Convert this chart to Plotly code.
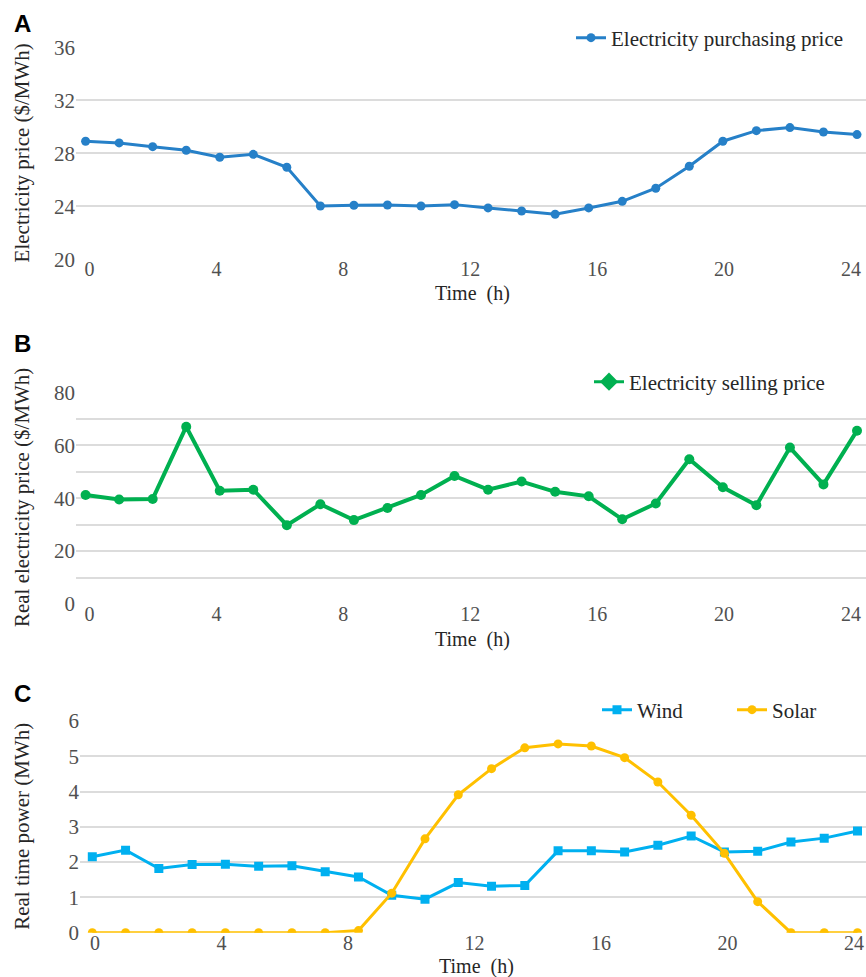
import plotly.graph_objects as go

# ---------------- data ----------------
hours = list(range(24))  # 24 hourly periods
x_tick_labels = [0, 4, 8, 12, 16, 20, 24]

purchase_price = [28.92, 28.79, 28.51, 28.24, 27.71, 27.93, 26.95, 24.03, 24.08, 24.10,
                  24.03, 24.13, 23.88, 23.65, 23.40, 23.88, 24.38, 25.37, 27.03, 28.92,
                  29.72, 29.95, 29.62, 29.42]
selling_price = [41.2, 39.5, 39.7, 67.0, 42.8, 43.2, 29.8, 37.7, 31.7, 36.3,
                 41.2, 48.4, 43.2, 46.3, 42.4, 40.7, 32.0, 38.0, 54.7, 44.1,
                 37.3, 59.1, 45.2, 65.5]
wind_power = [2.15, 2.34, 1.82, 1.93, 1.94, 1.88, 1.90, 1.73, 1.58, 1.06,
              0.95, 1.42, 1.32, 1.34, 2.32, 2.32, 2.29, 2.48, 2.74, 2.29,
              2.31, 2.57, 2.68, 2.88]
solar_power = [0, 0, 0, 0, 0, 0, 0, 0, 0.06, 1.12,
               2.66, 3.91, 4.65, 5.24, 5.35, 5.29, 4.96, 4.27, 3.33, 2.25,
               0.88, 0, 0, 0]

y_ticks_a = [20, 24, 28, 32, 36]
y_ticks_b = [0, 20, 40, 60, 80]
y_ticks_c = [0, 1, 2, 3, 4, 5, 6]

# ---------------- style ----------------
W, H = 866, 977
SERIF = "Liberation Serif, Times New Roman, serif"
SANS = "Liberation Sans, Arial, sans-serif"
TICK_COLOR = "#505050"
TEXT_COLOR = "#262626"
GRID = "#DCDCDC"
FS = 21
FSX = 20

BLUE = "#2680C8"
GREEN = "#00B050"
CYAN = "#00B0F0"
GOLD = "#FFC000"


def fy(px):
    return 1 - px / H


def fx(px):
    return px / W


fig = go.Figure()

fig.add_trace(go.Scatter(
    x=hours, y=purchase_price, mode="lines+markers",
    name="Electricity purchasing price",
    line=dict(color=BLUE, width=3), marker=dict(size=9, color=BLUE),
    xaxis="x", yaxis="y", legend="legend"))

fig.add_trace(go.Scatter(
    x=hours, y=selling_price, mode="lines+markers",
    name="Electricity selling price", showlegend=False,
    line=dict(color=GREEN, width=4), marker=dict(size=10, color=GREEN),
    xaxis="x2", yaxis="y2"))
# legend entry with diamond symbol as in the reference
fig.add_trace(go.Scatter(
    x=[None], y=[None], mode="lines+markers",
    name="Electricity selling price",
    line=dict(color=GREEN, width=3), marker=dict(size=14, color=GREEN, symbol="diamond"),
    xaxis="x2", yaxis="y2", legend="legend2"))

fig.add_trace(go.Scatter(
    x=hours, y=wind_power, mode="lines+markers", name="Wind",
    line=dict(color=CYAN, width=3), marker=dict(size=9, color=CYAN, symbol="square"),
    xaxis="x3", yaxis="y3", legend="legend3"))
fig.add_trace(go.Scatter(
    x=hours, y=solar_power, mode="lines+markers", name="Solar",
    line=dict(color=GOLD, width=3), marker=dict(size=9, color=GOLD),
    xaxis="x3", yaxis="y3", legend="legend3"))

tick_font = dict(family=SERIF, size=FS, color=TICK_COLOR)
xtick_font = dict(family=SERIF, size=FSX, color=TICK_COLOR)
title_font = dict(family=SERIF, size=FS, color=TEXT_COLOR)
xtitle_font = dict(family=SERIF, size=FSX, color=TEXT_COLOR)


def xaxis_cfg(anchor, left_px, x0_px, x23_px, lab0_px, lab24_px):
    per = (x23_px - x0_px) / 23.0
    rng = [(left_px - x0_px) / per, (W - x0_px) / per]
    a = (lab0_px - x0_px) / per
    b = (lab24_px - x0_px) / per
    tickvals = [a + (b - a) * v / 24.0 for v in x_tick_labels]
    return dict(
        domain=[fx(left_px), 1.0], range=rng, anchor=anchor,
        tickmode="array", tickvals=tickvals, ticktext=[str(v) for v in x_tick_labels],
        showgrid=False, zeroline=False, showline=False, ticks="",
        tickfont=xtick_font, ticklabeloverflow="allow", ticklabelstandoff=-4,
        fixedrange=True,
    )


def yaxis_cfg(anchor, top_px, bot_px, rng, ticks, minor=None):
    cfg = dict(
        domain=[fy(bot_px), fy(top_px)], range=rng, anchor=anchor,
        tickmode="array", tickvals=ticks, ticktext=[str(v) for v in ticks],
        showgrid=True, gridcolor=GRID, gridwidth=1.5, zeroline=False,
        showline=False, ticks="", tickfont=tick_font,
        fixedrange=True,
    )
    if minor is not None:
        cfg["minor"] = dict(dtick=minor, showgrid=True, gridcolor=GRID, gridwidth=1.5,
                            tick0=0)
    return cfg


layout = dict(
    width=W, height=H,
    margin=dict(l=0, r=0, t=0, b=0, autoexpand=False),
    paper_bgcolor="white", plot_bgcolor="white",
    font=dict(family=SERIF, color=TEXT_COLOR),
    xaxis=xaxis_cfg("y", 76, 85.6, 857.0, 89.5, 851.0),
    yaxis=yaxis_cfg("x", 47.5, 259.3, [20, 36], y_ticks_a),
    xaxis2=xaxis_cfg("y2", 76, 85.6, 857.0, 89.5, 851.0),
    yaxis2=yaxis_cfg("x2", 392.3, 604.0, [0, 80], y_ticks_b, minor=10),
    xaxis3=xaxis_cfg("y3", 80, 92.3, 857.5, 95.0, 854.0),
    yaxis3=yaxis_cfg("x3", 721.0, 932.7, [0, 6], y_ticks_c),
    legend=dict(x=fx(571), y=fy(38), xanchor="left", yanchor="middle",
                bgcolor="rgba(0,0,0,0)", font=dict(family=SERIF, size=FS, color=TEXT_COLOR)),
    legend2=dict(x=fx(589), y=fy(382), xanchor="left", yanchor="middle",
                 bgcolor="rgba(0,0,0,0)", font=dict(family=SERIF, size=FS, color=TEXT_COLOR)),
    legend3=dict(x=fx(597), y=fy(710), xanchor="left", yanchor="middle", orientation="h",
                 bgcolor="rgba(0,0,0,0)", entrywidth=90,
                 font=dict(family=SERIF, size=FS, color=TEXT_COLOR)),
    showlegend=True,
)
fig.update_layout(**layout)

# panel letters
for label, ypx in [("A", 24), ("B", 343), ("C", 693)]:
    fig.add_annotation(text="<b>%s</b>" % label, x=fx(22), y=fy(ypx), xref="paper", yref="paper",
                       showarrow=False, xanchor="center", yanchor="middle",
                       font=dict(family=SANS, size=24, color="black"))

# y-axis titles
for text, ypx in [("Electricity price ($/MWh)", 153.4),
                  ("Real electricity price ($/MWh)", 498.1),
                  ("Real time power (MWh)", 826.8)]:
    fig.add_annotation(text=text, x=fx(22), y=fy(ypx), xref="paper", yref="paper",
                       showarrow=False, textangle=-90, xanchor="center", yanchor="middle",
                       font=title_font)

# x-axis titles
for xpx, ypx in [(472, 293), (472, 639), (476, 966)]:
    fig.add_annotation(text="Time\u00a0 (h)", x=fx(xpx), y=fy(ypx), xref="paper", yref="paper",
                       showarrow=False, xanchor="center", yanchor="middle",
                       font=xtitle_font)

fig.write_html(
    "out.html",
    config={"displayModeBar": False},
    post_script="document.body.style.margin='0';document.body.style.overflow='hidden';",
)
